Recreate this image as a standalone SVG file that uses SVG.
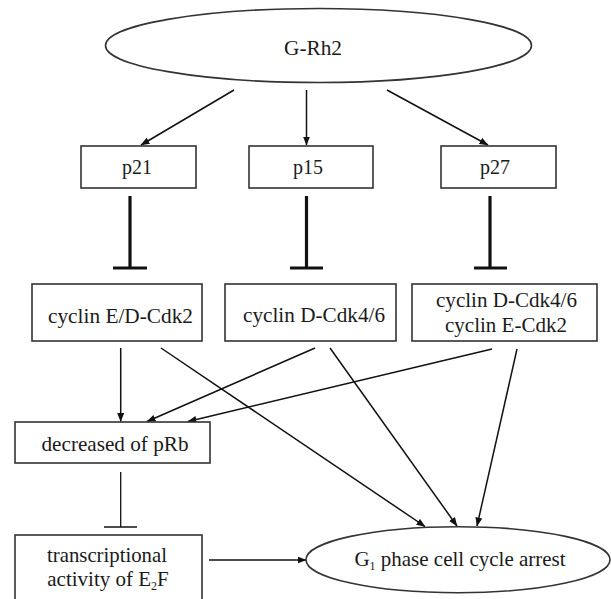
<svg xmlns="http://www.w3.org/2000/svg" width="611" height="599" viewBox="0 0 611 599">
<style>
text{font-family:"Liberation Serif","Times New Roman",serif;font-size:21px;fill:#1a1a1a;text-anchor:middle}
.box{fill:#fff;stroke:#333;stroke-width:1.6}
.ln{fill:none;stroke:#111;stroke-width:1.5}
.arr{fill:none;stroke:#111;stroke-width:1.5;marker-end:url(#ah)}
.inh{fill:none;stroke:#111;stroke-width:3.2}
.inht{fill:none;stroke:#111;stroke-width:1.3}
.sub{font-size:12px}
</style>
<defs>
<marker id="ah" markerUnits="userSpaceOnUse" markerWidth="9" markerHeight="8" refX="8.5" refY="3.5" orient="auto">
<path d="M0,0 L9,3.5 L0,7 z" fill="#111"/>
</marker>
</defs>
<rect width="611" height="599" fill="#fff"/>
<g id="connectors">
<line class="arr" x1="234" y1="90" x2="141" y2="145"/>
<line class="arr" x1="306.5" y1="90" x2="306.5" y2="145"/>
<line class="arr" x1="387" y1="90" x2="488" y2="145"/>
<line class="inh" x1="130" y1="196" x2="130" y2="268"/>
<line class="inh" x1="113" y1="268" x2="147" y2="268"/>
<line class="inh" x1="306.5" y1="196" x2="306.5" y2="268"/>
<line class="inh" x1="290" y1="268" x2="323" y2="268"/>
<line class="inh" x1="490" y1="196" x2="490" y2="268"/>
<line class="inh" x1="474" y1="268" x2="507" y2="268"/>
<line class="arr" x1="120.7" y1="348" x2="120.7" y2="421.5"/>
<line class="arr" x1="315" y1="348" x2="147" y2="421.5"/>
<line class="arr" x1="492" y1="349" x2="188" y2="421.5"/>
<line class="arr" x1="161" y1="348" x2="425" y2="526.5"/>
<line class="arr" x1="330" y1="348" x2="457" y2="526"/>
<line class="arr" x1="517" y1="349" x2="477" y2="526"/>
<line class="inht" x1="120.7" y1="472" x2="120.7" y2="527"/>
<line class="inht" x1="104" y1="527" x2="137" y2="527"/>
<line class="arr" x1="209" y1="560" x2="306" y2="560"/>
</g>
<g id="grh2">
<ellipse class="box" cx="318.5" cy="45.5" rx="213" ry="37"/>
<text x="313" y="55" textLength="58" lengthAdjust="spacingAndGlyphs">G-Rh2</text>
</g>
<g id="p21">
<rect class="box" x="81" y="146" width="115" height="42"/>
<text x="137" y="174" textLength="30" lengthAdjust="spacingAndGlyphs">p21</text>
</g>
<g id="p15">
<rect class="box" x="249" y="146" width="124" height="42"/>
<text x="308" y="174" textLength="30" lengthAdjust="spacingAndGlyphs">p15</text>
</g>
<g id="p27">
<rect class="box" x="441" y="146" width="115" height="42"/>
<text x="495" y="174" textLength="30" lengthAdjust="spacingAndGlyphs">p27</text>
</g>
<g id="cyclinED">
<rect class="box" x="32" y="284" width="170" height="57"/>
<text x="120.5" y="323" textLength="145" lengthAdjust="spacingAndGlyphs">cyclin E/D-Cdk2</text>
</g>
<g id="cyclinD">
<rect class="box" x="225" y="284" width="171" height="57"/>
<text x="314" y="322" textLength="142" lengthAdjust="spacingAndGlyphs">cyclin D-Cdk4/6</text>
</g>
<g id="cyclinDE">
<rect class="box" x="412" y="284" width="185" height="57"/>
<text x="506.5" y="306.5" textLength="141" lengthAdjust="spacingAndGlyphs">cyclin D-Cdk4/6</text>
<text x="506" y="331.5" textLength="122" lengthAdjust="spacingAndGlyphs">cyclin E-Cdk2</text>
</g>
<g id="pRb">
<rect class="box" x="15" y="422" width="195" height="41"/>
<text x="115" y="450.5" textLength="147" lengthAdjust="spacingAndGlyphs">decreased of pRb</text>
</g>
<g id="e2f">
<rect class="box" x="15" y="535" width="187" height="70"/>
<text x="107" y="561.5" textLength="120" lengthAdjust="spacingAndGlyphs">transcriptional</text>
<text x="108" y="585.5">activity of E<tspan class="sub" dy="4">2</tspan><tspan dy="-4">F</tspan></text>
</g>
<g id="g1arrest">
<ellipse class="box" cx="458" cy="559.7" rx="152" ry="33"/>
<text x="460" y="565.5">G<tspan class="sub" dy="4">1</tspan><tspan dy="-4"> phase cell cycle arrest</tspan></text>
</g>
</svg>
